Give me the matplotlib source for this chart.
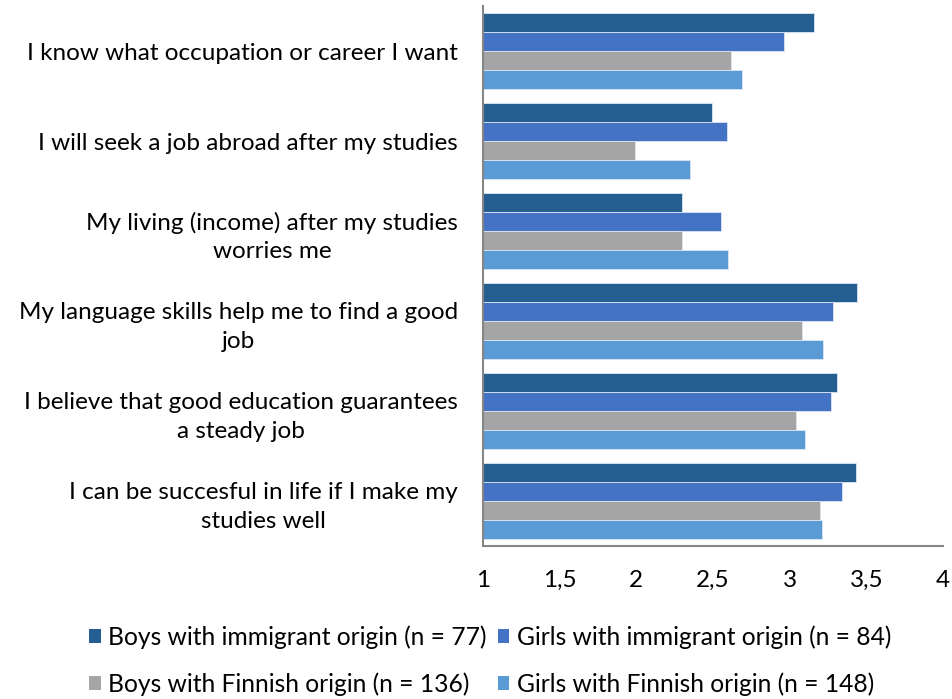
import numpy as np
from matplotlib import pyplot as plt
from matplotlib.patches import Patch
from matplotlib.ticker import FuncFormatter

statements = [
    'I know what occupation or career I want',
    'I will seek a job abroad after my studies',
    'My living (income) after my studies\nworries me',
    'My language skills help me to find a good\njob',
    'I believe that good education guarantees\na steady job',
    'I can be succesful in life if I make my\nstudies well',
]

boys_immigrant = [3.16, 2.49, 2.30, 3.44, 3.31, 3.43]
girls_immigrant = [2.96, 2.59, 2.55, 3.28, 3.27, 3.34]
boys_finnish = [2.62, 1.99, 2.30, 3.08, 3.04, 3.20]
girls_finnish = [2.69, 2.35, 2.60, 3.22, 3.10, 3.21]

group_labels = [
    'Boys with immigrant origin (n = 77)',
    'Girls with immigrant origin (n = 84)',
    'Boys with Finnish origin (n = 136)',
    'Girls with Finnish origin (n = 148)',
]
colors = ['#255E91', '#4472C4', '#A5A5A5', '#5B9BD5']

plt.rcParams['font.family'] = ['Lato', 'DejaVu Sans']

fig = plt.figure(figsize=(9.52, 6.99), dpi=100)
ax = fig.add_axes([0.5074, 0.2189, 0.4832, 0.7725])

series = [boys_immigrant, girls_immigrant, boys_finnish, girls_finnish]
y = np.arange(len(statements))
h = 0.211
base = 1.0
for i, (vals, col) in enumerate(zip(series, colors)):
    offs = (i - 1.5) * h
    ax.barh(y + offs, np.array(vals) - base, height=h, left=base,
            color=col, edgecolor='#DCE6F2', linewidth=0.6)

ax.set_xlim(1, 4)
ax.set_ylim(len(statements) - 0.5, -0.5)
ax.set_xticks([1, 1.5, 2, 2.5, 3, 3.5, 4])
ax.xaxis.set_major_formatter(FuncFormatter(lambda v, p: ('%g' % v).replace('.', ',')))
ax.set_yticks(y)
ax.set_yticklabels(statements, multialignment='center', linespacing=1.45)

ax.tick_params(axis='x', length=0, pad=17, labelsize=17.5, colors='black')
ax.tick_params(axis='y', length=0, pad=18, labelsize=17.5)

for s in ['top', 'right']:
    ax.spines[s].set_visible(False)
for s in ['left', 'bottom']:
    ax.spines[s].set_color('#868686')
    ax.spines[s].set_linewidth(1.5)

# legend fills row by row: immigrant boys/girls, then Finnish boys/girls
order = [0, 2, 1, 3]
handles = [Patch(facecolor=colors[k], edgecolor='none') for k in order]
fig.legend(handles, [group_labels[k] for k in order], ncol=2, loc='center',
           bbox_to_anchor=(0.515, 0.055), frameon=False, fontsize=17.7,
           handlelength=0.47, handleheight=0.47, handletextpad=0.3,
           columnspacing=0.45, labelspacing=0.95, borderaxespad=0)

fig.savefig('out.png', dpi=100)
